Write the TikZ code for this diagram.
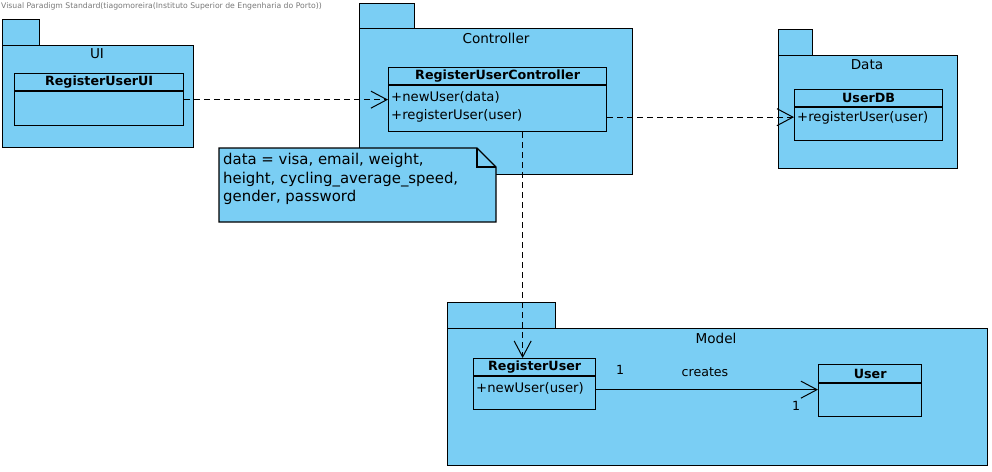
\documentclass[tikz,border=0pt]{standalone}
\usepackage{fontspec}
\setmainfont{DejaVu Sans}
\usetikzlibrary{arrows.meta,positioning,calc}
\definecolor{pkgcolor}{RGB}{122,206,244}
\definecolor{capcolor}{RGB}{120,120,120}

\tikzset{
  box/.style={draw, fill=pkgcolor, line width=1.3pt, inner sep=0pt, anchor=north west},
  pkgname/.style={font=\fontsize{13.6}{15}\selectfont, inner sep=0pt},
  clsname/.style={font=\fontsize{12.7}{14}\selectfont\bfseries, inner sep=0pt},
  method/.style={font=\fontsize{13.2}{15}\selectfont, inner sep=0pt, anchor=west},
  mult/.style={font=\fontsize{12.6}{14}\selectfont, inner sep=0pt},
  dep/.style={line width=1pt, dash pattern=on 6pt off 4pt, -{Straight Barb[length=16pt,width=17pt,line width=1pt]}},
  assoc/.style={line width=1pt, -{Straight Barb[length=16pt,width=17pt,line width=1pt]}}
}

\begin{document}
\begin{tikzpicture}[x=1pt, y=-1pt]
  \useasboundingbox (0,0) rectangle (992,471);
  % tool caption
  \node[font=\fontsize{7.7}{8}\selectfont, text=capcolor, anchor=west, inner sep=0pt] (caption) at (1,6)
    {Visual Paradigm Standard(tiagomoreira(Instituto Superior de Engenharia do Porto))};

  % UI package
  \node[box, minimum width=37pt, minimum height=27pt] (uitab) at (2,19) {};
  \node[box, minimum width=191pt, minimum height=102pt] (uipkg) at (2,45) {};
  \node[pkgname] (uilabel) at (97,54) {UI};
  \node[box, minimum width=169pt, minimum height=52pt] (uicls) at (14,73) {};
  \draw[line width=1.3pt] ([yshift=-18pt]uicls.north west) -- ([yshift=-18pt]uicls.north east);
  \node[clsname] (uiname) at ($(uicls.north)+(0,9)$) {RegisterUserUI};

  % Controller package
  \node[box, minimum width=55pt, minimum height=26pt] (ctrltab) at (359,3) {};
  \node[box, minimum width=273pt, minimum height=146pt] (ctrlpkg) at (359,28) {};
  \node[pkgname] (ctrllabel) at (496,38) {Controller};
  \node[box, minimum width=218pt, minimum height=64pt] (ctrlcls) at (388,67) {};
  \draw[line width=1.3pt] ([yshift=-18pt]ctrlcls.north west) -- ([yshift=-18pt]ctrlcls.north east);
  \node[clsname] (ctrlname) at ($(ctrlcls.north)+(0,9)$) {RegisterUserController};
  \node[method] (newuser) at ($(ctrlcls.north west)+(3,30)$) {+newUser(data)};
  \node[method] (reguser) at ($(ctrlcls.north west)+(3,49)$) {+registerUser(user)};

  % note on data
  \draw[line width=1.3pt, fill=pkgcolor] (219,148) -- (477,148) -- (496,167) -- (496,222) -- (219,222) -- cycle;
  \draw[line width=1.3pt] (477,148) -- (477,167) -- (496,167);
  \node[font=\fontsize{14.9}{18.5}\selectfont, align=left, anchor=north west, inner sep=0pt] (datanote) at (223,153)
    {data = visa, email, weight,\\height, cycling\_average\_speed,\\gender, password};

  % Data package
  \node[box, minimum width=34pt, minimum height=26pt] (datatab) at (778,29) {};
  \node[box, minimum width=179pt, minimum height=113pt] (datapkg) at (778,55) {};
  \node[pkgname] (datalabel) at (867,65) {Data};
  \node[box, minimum width=148pt, minimum height=51pt] (dbcls) at (794,89) {};
  \draw[line width=1.3pt] ([yshift=-18pt]dbcls.north west) -- ([yshift=-18pt]dbcls.north east);
  \node[clsname] (dbname) at ($(dbcls.north)+(0,9)$) {UserDB};
  \node[method] (dbreg) at ($(dbcls.north west)+(3,29)$) {+registerUser(user)};

  % Model package
  \node[box, minimum width=108pt, minimum height=26pt] (modeltab) at (447,302) {};
  \node[box, minimum width=540pt, minimum height=137pt] (modelpkg) at (447,328) {};
  \node[pkgname] (modellabel) at (716,338) {Model};
  \node[box, minimum width=122pt, minimum height=51pt] (rucls) at (473,358) {};
  \draw[line width=1.3pt] ([yshift=-18pt]rucls.north west) -- ([yshift=-18pt]rucls.north east);
  \node[clsname] (runame) at ($(rucls.north)+(0,9)$) {RegisterUser};
  \node[method] (runew) at ($(rucls.north west)+(3,30)$) {+newUser(user)};
  \node[box, minimum width=103pt, minimum height=52pt] (usercls) at (818,364) {};
  \draw[line width=1.3pt] ([yshift=-19pt]usercls.north west) -- ([yshift=-19pt]usercls.north east);
  \node[clsname] (username) at ($(usercls.north)+(0,9.5)$) {User};

  % dependencies
  \draw[dep] (uicls.east) -- (ctrlcls.west);
  \draw[dep] ([yshift=-2pt]ctrlcls.east |- dbcls.west) -- ([yshift=-2pt]dbcls.west);
  \draw[dep] ([xshift=25pt]ctrlcls.south) -- ([xshift=25pt]ctrlcls.south |- rucls.north);

  % association
  \draw[assoc] ([yshift=-5.5pt]rucls.east) -- ([yshift=-5.5pt]rucls.east -| usercls.west);
  \node[mult] (multa) at (620,370) {1};
  \node[mult] (creates) at (705,372) {creates};
  \node[mult] (multb) at (796,406) {1};
\end{tikzpicture}
\end{document}
